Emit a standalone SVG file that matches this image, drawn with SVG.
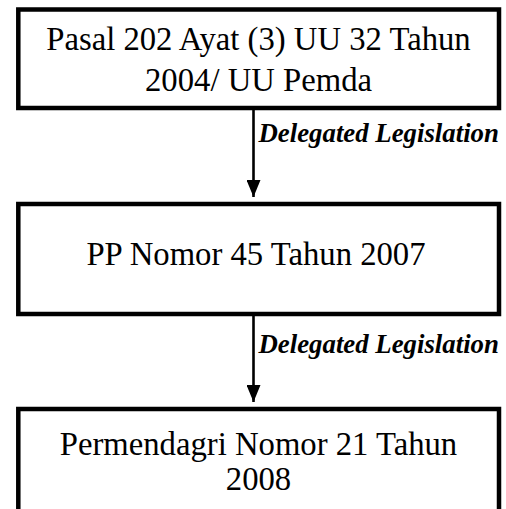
<svg xmlns="http://www.w3.org/2000/svg" width="506" height="509" viewBox="0 0 506 509">
<defs>
<style>
.box{fill:#fff;stroke:#000;stroke-width:4.5}
.t{font-family:"Liberation Serif","Times New Roman",serif;font-size:32.7px;fill:#000;text-anchor:middle}
.lbl{font-family:"Liberation Serif","Times New Roman",serif;font-size:26.8px;font-weight:bold;font-style:italic;fill:#000}
.ln{stroke:#000;stroke-width:2.6;fill:none}
</style>
<marker id="ah" markerUnits="userSpaceOnUse" markerWidth="17" markerHeight="14" refX="17" refY="7" orient="auto" viewBox="0 0 17 14">
<path d="M0,0 L17,7 L0,14 Z" fill="#000"/>
</marker>
</defs>
<rect width="506" height="509" fill="#fff"/>
<g id="connectors">
<line class="ln" x1="253.5" y1="108" x2="253.5" y2="197" marker-end="url(#ah)"/>
<line class="ln" x1="253.5" y1="314" x2="253.5" y2="402" marker-end="url(#ah)"/>
<text class="lbl" x="258.5" y="142">Delegated Legislation</text>
<text class="lbl" x="258.5" y="353">Delegated Legislation</text>
</g>
<g id="node1">
<rect class="box" x="18.3" y="9.5" width="480.7" height="98.5"/>
<text class="t" x="258.5" y="50">Pasal 202 Ayat (3) UU 32 Tahun</text>
<text class="t" x="258.5" y="91">2004/ UU Pemda</text>
</g>
<g id="node2">
<rect class="box" x="18.3" y="204" width="480.7" height="110"/>
<text class="t" x="256" y="265">PP Nomor 45 Tahun 2007</text>
</g>
<g id="node3">
<rect class="box" x="18.3" y="409" width="480.7" height="130"/>
<text class="t" x="258.5" y="455">Permendagri Nomor 21 Tahun</text>
<text class="t" x="258.5" y="490">2008</text>
</g>
</svg>
